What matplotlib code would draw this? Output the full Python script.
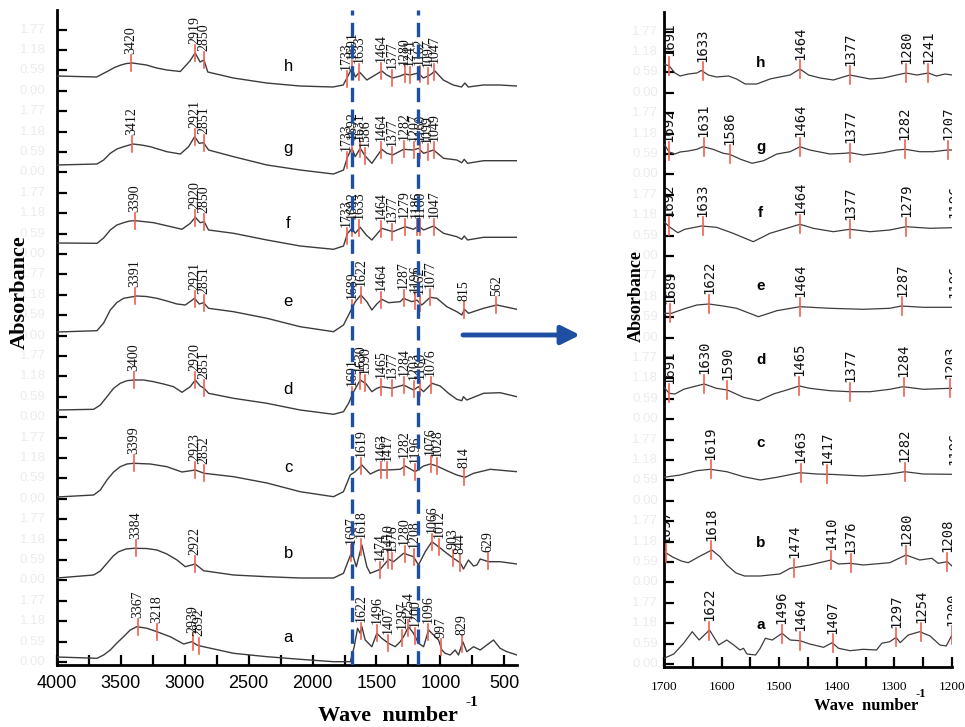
import numpy as np
import matplotlib.pyplot as plt
from matplotlib.transforms import blended_transform_factory

# ---------------- full spectra (left panel) ----------------
# wavenumber (cm-1) and absorbance relative to each trace's own baseline
names = ["a", "b", "c", "d", "e", "f", "g", "h"]
full_offset = [0.08, 0.87, 1.68, 2.55, 3.33, 4.22, 5.00, 5.89]

full_a_wn = [4000, 3687, 3635, 3583, 3531, 3479, 3427, 3375, 3296, 3218, 3114, 3009, 2944, 2905, 2879, 2618, 2357, 2097, 1836,
             1705, 1674, 1648, 1627, 1614, 1588, 1562, 1536, 1497, 1458, 1405, 1353, 1314, 1288, 1249, 1210,
             1171, 1131, 1092, 1053, 1014, 988, 962, 923, 884, 858, 824, 793, 740, 688, 636, 584, 532, 480, 440, 401]
full_a_ab = [0, -0.013, 0.02, 0.07, 0.14, 0.203, 0.27, 0.303, 0.287, 0.253, 0.203, 0.13, 0.153, 0.12, 0.11, 0.037, 0.003, -0.023, -0.047,
             -0.047, 0.103, 0.287, 0.237, 0.303, 0.17, 0.137, 0.103, 0.237, 0.187, 0.137, 0.103, 0.153, 0.203, 0.303, 0.237,
             0.137, 0.103, 0.27, 0.22, 0.17, 0.07, 0.037, 0.02, 0.07, 0.02, 0.153, 0.053, 0.103, 0.07, 0.12, 0.17, 0.087, 0.053, 0.037, 0.02]

full_b_wn = [4000, 3713, 3661, 3609, 3560, 3518, 3460, 3400, 3300, 3218, 3140, 3061, 2996, 2918, 2853, 2618, 2357, 2097, 1836, 1758, 1718,
             1692, 1658, 1614, 1575, 1549, 1470, 1405, 1366, 1288, 1210, 1171, 1118, 1066, 1014, 949, 897,
             845, 819, 806, 780, 740, 714, 688, 623, 532, 401]
full_b_ab = [0, 0.03, 0.07, 0.147, 0.22, 0.263, 0.29, 0.297, 0.295, 0.28, 0.24, 0.18, 0.113, 0.14, 0.073, 0.03, 0.013, 0.0, 0.0, 0.047, 0.18,
             0.263, 0.113, 0.33, 0.113, 0.047, 0.087, 0.187, 0.163, 0.247, 0.213, 0.13, 0.263, 0.363, 0.313, 0.247, 0.197,
             0.153, 0.09, 0.12, 0.18, 0.12, 0.13, 0.19, 0.163, 0.163, 0.14]

full_c_wn = [4000, 3713, 3661, 3609, 3557, 3505, 3453, 3400, 3270, 3140, 3022, 2918, 2848, 2618, 2357, 2097, 1836, 1758, 1705, 1666,
             1614, 1549, 1483, 1418, 1314, 1275, 1197, 1131, 1079, 1027, 949, 871, 806, 740, 610, 401]
full_c_ab = [0, 0.02, 0.07, 0.17, 0.25, 0.303, 0.33, 0.337, 0.33, 0.303, 0.25, 0.27, 0.237, 0.203, 0.14, 0.053, 0.003, 0.053, 0.22, 0.253,
             0.32, 0.23, 0.27, 0.27, 0.277, 0.31, 0.253, 0.31, 0.33, 0.31, 0.263, 0.22, 0.197, 0.237, 0.277, 0.253]

full_d_wn = [4000, 3713, 3661, 3609, 3557, 3505, 3453, 3400, 3322, 3244, 3166, 3088, 3022, 2957, 2918, 2879, 2848, 2814, 2618, 2357, 2097,
             1836, 1758, 1718, 1685, 1627, 1580, 1536, 1497, 1458, 1379, 1288, 1210, 1171, 1131, 1066, 1001,
             936, 871, 832, 819, 793, 662, 532, 401]
full_d_ab = [0, 0.007, 0.05, 0.133, 0.217, 0.267, 0.293, 0.30, 0.30, 0.283, 0.26, 0.233, 0.177, 0.233, 0.30, 0.24, 0.217, 0.167, 0.117, 0.067, 0.0,
             -0.043, -0.017, 0.067, 0.167, 0.30, 0.26, 0.183, 0.217, 0.233, 0.217, 0.25, 0.20, 0.233, 0.183, 0.267, 0.24,
             0.167, 0.107, 0.093, 0.133, 0.10, 0.167, 0.173, 0.133]

full_e_wn = [4000, 3687, 3635, 3583, 3531, 3479, 3375, 3300, 3218, 3140, 3061, 2996, 2923, 2887, 2853, 2814, 2618, 2357, 2097, 1836,
             1758, 1705, 1666, 1622, 1575, 1536, 1497, 1458, 1405, 1314, 1288, 1223, 1184, 1145, 1079, 1027,
             949, 871, 832, 811, 780, 662, 558, 401]
full_e_ab = [0, 0.013, 0.09, 0.22, 0.295, 0.337, 0.36, 0.355, 0.337, 0.31, 0.28, 0.27, 0.337, 0.28, 0.293, 0.237, 0.203, 0.137, 0.053, 0.003,
             0.07, 0.203, 0.303, 0.37, 0.303, 0.22, 0.28, 0.327, 0.293, 0.303, 0.337, 0.303, 0.32, 0.27, 0.347, 0.337,
             0.253, 0.203, 0.17, 0.227, 0.187, 0.237, 0.27, 0.227]

full_f_wn = [4000, 3687, 3635, 3583, 3531, 3479, 3430, 3387, 3244, 3166, 3088, 3022, 2957, 2918, 2879, 2848, 2814, 2618, 2357, 2097,
             1836, 1758, 1726, 1692, 1666, 1627, 1580, 1536, 1458, 1372, 1275, 1210, 1171, 1131, 1053, 975,
             871, 832, 813, 787, 662, 401]
full_f_ab = [0, -0.003, 0.05, 0.13, 0.18, 0.203, 0.22, 0.223, 0.203, 0.18, 0.157, 0.137, 0.197, 0.257, 0.203, 0.213, 0.13, 0.097, 0.03, -0.03,
             -0.063, -0.03, 0.097, 0.147, 0.097, 0.157, 0.08, 0.03, 0.147, 0.113, 0.163, 0.137, 0.17, 0.13, 0.17, 0.097,
             0.063, 0.037, 0.07, 0.03, 0.057, 0.057]

full_g_wn = [4000, 3687, 3635, 3583, 3531, 3479, 3406, 3340, 3270, 3140, 3035, 2970, 2923, 2887, 2853, 2814, 2618, 2357, 2097,
             1836, 1758, 1726, 1692, 1666, 1627, 1588, 1536, 1458, 1418, 1372, 1288, 1210, 1171, 1131, 1053,
             975, 871, 832, 813, 787, 662, 401]
full_g_ab = [0, 0.01, 0.05, 0.117, 0.16, 0.183, 0.21, 0.2, 0.183, 0.133, 0.11, 0.183, 0.283, 0.217, 0.223, 0.15, 0.083, 0.0, -0.05,
             -0.09, -0.05, 0.083, 0.167, 0.083, 0.167, 0.09, 0.017, 0.157, 0.117, 0.10, 0.157, 0.15, 0.167, 0.117, 0.15,
             0.067, 0.05, 0.023, 0.057, 0.017, 0.043, 0.043]

full_h_wn = [4000, 3690, 3600, 3550, 3500, 3455, 3410, 3300, 3220, 3140, 3035, 2960, 2919, 2880, 2850, 2820, 2620, 2360, 2100,
             1840, 1760, 1728, 1692, 1665, 1633, 1575, 1523, 1458, 1419, 1372, 1315, 1276, 1237, 1172, 1133,
             1081, 1042, 977, 899, 834, 808, 782, 665, 535, 404]
full_h_ab = [0, -0.01, 0.05, 0.085, 0.11, 0.125, 0.13, 0.11, 0.08, 0.06, 0.045, 0.15, 0.23, 0.14, 0.16, 0.04, -0.02, -0.07, -0.10,
             -0.11, -0.09, -0.013, 0.08, -0.01, 0.04, -0.04, 0.0, 0.05, 0.01, -0.02, 0.0, 0.02, 0.01, 0.03, -0.02,
             0.01, 0.05, -0.04, -0.09, -0.11, -0.07, -0.11, -0.09, -0.09, -0.10]

full_a_peaks = [3367, 3218, 2939, 2892, 1622, 1496, 1407, 1297, 1254, 1200, 1096, 997, 829]
full_b_peaks = [3384, 2922, 1697, 1618, 1474, 1410, 1376, 1280, 1208, 1066, 1012, 903, 844, 629]
full_c_peaks = [3399, 2923, 2852, 1619, 1463, 1417, 1282, 1196, 1076, 1028, 814]
full_d_peaks = [3400, 2920, 2851, 1691, 1630, 1590, 1465, 1377, 1284, 1203, 1160, 1076]
full_e_peaks = [3391, 2921, 2851, 1689, 1622, 1464, 1287, 1196, 1162, 1077, 815, 562]
full_f_peaks = [3390, 2920, 2850, 1733, 1692, 1633, 1464, 1377, 1279, 1186, 1160, 1047]
full_g_peaks = [3412, 2921, 2851, 1733, 1692, 1631, 1586, 1464, 1377, 1282, 1207, 1160, 1099, 1049]
full_h_peaks = [3420, 2919, 2850, 1733, 1691, 1633, 1464, 1377, 1280, 1241, 1162, 1097, 1047]

# ---------------- 1700-1200 cm-1 detail (right panel) ----------------
zoom_offset = [0.22, 1.01, 1.92, 2.77, 3.58, 4.38, 5.15, 5.92]

zoom_a_wn = [1700, 1683, 1666, 1651, 1639, 1621, 1605, 1591, 1579, 1568, 1562, 1556, 1541, 1533, 1524, 1512,
             1495, 1481, 1464, 1447, 1423, 1408, 1397, 1377, 1354, 1331, 1322, 1308, 1297, 1290, 1276, 1256,
             1238, 1221, 1210, 1200]
zoom_a_ab = [-0.133, -0.09, 0.017, 0.133, 0.05, 0.15, 0.0, 0.05, 0.0, -0.05, -0.033, -0.09, -0.10, -0.033, 0.067, 0.05,
             0.117, 0.05, 0.043, 0.01, -0.023, 0.023, -0.033, -0.057, -0.043, -0.05, 0.017, 0.033, 0.077, 0.023, 0.10, 0.133,
             0.09, 0.0, -0.01, 0.10]
zoom_b_wn = [1700, 1685, 1670, 1658, 1637, 1617, 1603, 1591, 1575, 1560, 1533, 1499, 1481, 1447, 1410, 1397,
             1377, 1354, 1308, 1280, 1256, 1235, 1224, 1208, 1200]
zoom_b_ab = [0.143, 0.09, 0.05, 0.033, 0.10, 0.16, 0.093, 0.01, -0.07, -0.10, -0.10, -0.08, -0.023, 0.01, 0.06, 0.02,
             0.027, 0.01, 0.033, 0.11, 0.06, 0.077, 0.027, 0.043, 0.0]
zoom_c_wn = [1700, 1672, 1643, 1620, 1591, 1562, 1533, 1504, 1464, 1435, 1412, 1354, 1308, 1282, 1250, 1200]
zoom_c_ab = [-0.023, 0.0, 0.043, 0.057, 0.033, -0.017, -0.05, -0.023, 0.023, 0.01, 0.007, -0.01, 0.01, 0.033, 0.01, 0.007]
zoom_d_wn = [1700, 1691, 1681, 1666, 1649, 1630, 1609, 1590, 1562, 1536, 1510, 1487, 1465, 1447, 1412, 1377,
             1342, 1308, 1285, 1250, 1203, 1200]
zoom_d_ab = [0.027, -0.033, -0.04, 0.007, 0.033, 0.06, 0.017, 0.0, -0.073, -0.107, -0.04, 0.0, 0.04, 0.017, -0.007, -0.017,
             -0.017, 0.007, 0.033, 0.007, 0.017, 0.017]
zoom_e_wn = [1700, 1687, 1666, 1643, 1622, 1597, 1574, 1536, 1504, 1464, 1412, 1354, 1308, 1288, 1250, 1200]
zoom_e_ab = [-0.043, -0.043, 0.0, 0.04, 0.05, 0.03, 0.007, -0.077, -0.017, 0.023, 0.007, -0.003, 0.007, 0.03, 0.017, 0.017]
zoom_f_wn = [1700, 1691, 1676, 1664, 1635, 1609, 1580, 1545, 1516, 1487, 1464, 1441, 1406, 1386, 1377, 1342,
             1308, 1280, 1238, 1200]
zoom_f_ab = [0.073, 0.023, -0.037, -0.003, 0.03, 0.017, -0.043, -0.127, -0.043, 0.007, 0.047, 0.007, -0.027, -0.01, -0.003, -0.027,
             -0.01, 0.023, 0.007, 0.013]
zoom_g_wn = [1700, 1691, 1681, 1672, 1658, 1643, 1632, 1615, 1597, 1586, 1567, 1547, 1527, 1504, 1481, 1464,
             1447, 1412, 1386, 1377, 1354, 1319, 1296, 1281, 1256, 1233, 1208, 1200]
zoom_g_ab = [0.08, 0.0, -0.02, 0.0, 0.01, 0.027, 0.053, 0.027, -0.013, -0.023, -0.073, -0.113, -0.087, -0.02, 0.003, 0.053,
             0.02, -0.02, -0.013, -0.007, -0.03, -0.007, 0.02, 0.027, 0.003, 0.003, 0.02, 0.02]
zoom_h_wn = [1700, 1691, 1681, 1672, 1658, 1643, 1635, 1623, 1609, 1588, 1574, 1559, 1539, 1516, 1499, 1481,
             1464, 1449, 1429, 1406, 1389, 1377, 1360, 1342, 1319, 1296, 1280, 1261, 1241, 1227, 1212, 1200]
zoom_h_ab = [0.11, 0.09, 0.02, -0.01, 0.01, 0.02, 0.045, 0.0, -0.02, -0.01, -0.04, -0.09, -0.09, -0.04, -0.02, 0.0,
             0.06, 0.0, -0.03, -0.05, -0.02, 0.0, -0.02, -0.04, -0.03, 0.0, 0.02, 0.0, 0.02, -0.01, 0.01, 0.0]

zoom_a_peaks = [1622, 1496, 1464, 1407, 1297, 1254, 1200]
zoom_b_peaks = [1697, 1618, 1474, 1410, 1376, 1280, 1208]
zoom_c_peaks = [1619, 1463, 1417, 1282, 1196]
zoom_d_peaks = [1691, 1630, 1590, 1465, 1377, 1284, 1203]
zoom_e_peaks = [1689, 1622, 1464, 1287, 1196]
zoom_f_peaks = [1692, 1633, 1464, 1377, 1279, 1196]
zoom_g_peaks = [1692, 1631, 1586, 1464, 1377, 1282, 1207]
zoom_h_peaks = [1691, 1633, 1464, 1377, 1280, 1241]

full_ticks = [4000, 3500, 3000, 2500, 2000, 1500, 1000, 500]
zoom_ticks = [1700, 1600, 1500, 1400, 1300, 1200]
guide_lines = [1690, 1175]
ghost_labels = ["0.00", "0.59", "1.18", "1.77"]

full = {n: (w, a, p) for n, w, a, p in zip(
    names,
    [full_a_wn, full_b_wn, full_c_wn, full_d_wn, full_e_wn, full_f_wn, full_g_wn, full_h_wn],
    [full_a_ab, full_b_ab, full_c_ab, full_d_ab, full_e_ab, full_f_ab, full_g_ab, full_h_ab],
    [full_a_peaks, full_b_peaks, full_c_peaks, full_d_peaks, full_e_peaks, full_f_peaks, full_g_peaks, full_h_peaks])}
zoom = {n: (w, a, p) for n, w, a, p in zip(
    names,
    [zoom_a_wn, zoom_b_wn, zoom_c_wn, zoom_d_wn, zoom_e_wn, zoom_f_wn, zoom_g_wn, zoom_h_wn],
    [zoom_a_ab, zoom_b_ab, zoom_c_ab, zoom_d_ab, zoom_e_ab, zoom_f_ab, zoom_g_ab, zoom_h_ab],
    [zoom_a_peaks, zoom_b_peaks, zoom_c_peaks, zoom_d_peaks, zoom_e_peaks, zoom_f_peaks, zoom_g_peaks, zoom_h_peaks])}

# letter label heights above each baseline (layout only)
full_letter_dy = [0.20, 0.25, 0.30, 0.20, 0.30, 0.20, 0.17, 0.10]
zoom_letter_dy = [0.20, 0.23, 0.32, 0.30, 0.23, 0.16, 0.05, 0.12]

LINE = "#3c3c3c"
RED = "#f0604f"
BLUE = "#1f4fa3"
SERIF = "Liberation Serif"
SANS = "Liberation Sans"

W, H = 965, 727
fig = plt.figure(figsize=(W / 100, H / 100), dpi=100)
ax1 = fig.add_axes([57 / W, 62 / H, 460 / W, 655 / H])
ax2 = fig.add_axes([664 / W, 60 / H, 288 / W, 655 / H])


def style_axes(ax, xlim, ticks, step, lab_font, lab_size, pad, ghost_x):
    ax.set_xlim(*xlim)
    ax.set_ylim(0, 6.55)
    for s in ("top", "right"):
        ax.spines[s].set_visible(False)
    for s in ("left", "bottom"):
        ax.spines[s].set_linewidth(2)
    ax.set_xticks(ticks)
    ax.set_xticks(np.array(ticks[:-1]) - step / 2, minor=True)
    ax.set_xticklabels([str(t) for t in ticks], family=lab_font, fontsize=lab_size)
    yt = np.arange(0.03, 6.5, 0.204)
    ax.set_yticks(yt)
    ax.set_yticklabels([])
    ax.tick_params(axis="both", which="both", direction="in", length=7, width=1.6)
    ax.tick_params(axis="x", pad=pad)
    # faded leftover tick values seen beside the axis
    trans = blended_transform_factory(ax.transAxes, ax.transData)
    for i, y in enumerate(yt):
        ax.text(ghost_x, y, ghost_labels[i % 4], transform=trans,
                ha="right", va="center", fontsize=9.5, color="#ececec", family=SANS)


style_axes(ax1, (4000, 400), full_ticks, 500, SANS, 13, 7, -0.025)
style_axes(ax2, (1700, 1200), zoom_ticks, 100, SERIF, 9.5, 10, -0.02)

for x in guide_lines:
    ax1.axvline(x, color=BLUE, lw=2.4, ls=(0, (4.3, 2.2)), zorder=4)

for i, n in enumerate(names):
    wn, ab, peaks = full[n]
    y = full_offset[i] + np.array(ab)
    ax1.plot(wn, y, color=LINE, lw=1.0, zorder=3)
    for p in peaks:
        yc = np.interp(p, wn[::-1], y[::-1])
        ax1.plot([p, p], [yc - 0.08, yc + 0.08], color=RED, lw=1.2, zorder=3)
        ax1.text(p, yc + 0.09, str(p), rotation=90, ha="center", va="bottom",
                 family=SERIF, fontsize=10, color="#111111")
    ax1.text(2190, full_offset[i] + full_letter_dy[i], n, ha="center", va="center",
             family=SANS, fontsize=12)

    wn, ab, peaks = zoom[n]
    y = zoom_offset[i] + np.array(ab)
    ax2.plot(wn, y, color=LINE, lw=0.9, zorder=3)
    for p in peaks:
        yc = np.interp(p, wn[::-1], y[::-1])
        ax2.plot([p, p], [yc - 0.09, yc + 0.09], color=RED, lw=1.2, zorder=3, clip_on=True)
        ax2.text(p, yc + 0.095, str(p), rotation=90, ha="center", va="bottom",
                 family="DejaVu Sans Mono", fontsize=10, color="#111111", clip_on=True)
    ax2.text(1532, zoom_offset[i] + zoom_letter_dy[i], n, ha="center", va="center",
             family=SANS, fontsize=11, fontweight="bold")

# axis titles
fig.text(20 / W, 1 - 292 / H, "Absorbance", rotation=90, ha="center", va="center",
         family=SERIF, fontweight="bold", fontsize=16)
fig.text(636 / W, 1 - 296 / H, "Absorbance", rotation=90, ha="center", va="center",
         family=SERIF, fontweight="bold", fontsize=13)
fig.text(388 / W, 1 - 716 / H, "Wave  number", ha="center", va="center",
         family=SERIF, fontweight="bold", fontsize=16)
fig.text(472 / W, 1 - 702 / H, "-1", ha="center", va="center",
         family=SERIF, fontweight="bold", fontsize=11)
fig.text(866 / W, 1 - 706 / H, "Wave  number", ha="center", va="center",
         family=SERIF, fontweight="bold", fontsize=12)
fig.text(921 / W, 1 - 694 / H, "-1", ha="center", va="center",
         family=SERIF, fontweight="bold", fontsize=9)

# arrow pointing to the enlarged region
fig.add_artist(plt.Annotation("", xy=(580 / W, 1 - 335 / H), xytext=(463 / W, 1 - 335 / H),
                              xycoords="figure fraction", textcoords="figure fraction",
                              arrowprops=dict(arrowstyle="-|>", lw=3.5, color=BLUE,
                                              mutation_scale=28, shrinkA=0, shrinkB=0)))

fig.savefig("out.png", dpi=100)
